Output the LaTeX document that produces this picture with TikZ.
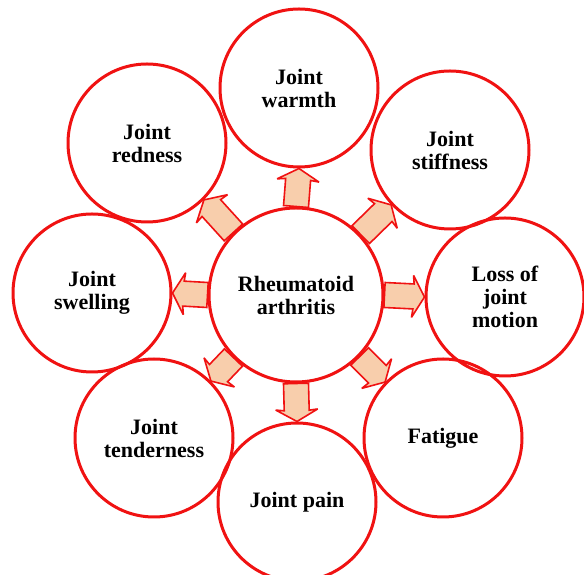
\documentclass[tikz,border=0pt]{standalone}
\usepackage{fontspec}
\setmainfont{Liberation Serif}
\usetikzlibrary{calc}

\definecolor{rared}{RGB}{240,18,18}
\definecolor{peach}{RGB}{248,206,172}

\tikzset{
  symptom/.style={circle, draw=rared, line width=3pt, minimum size=158pt,
    inner sep=0pt, align=center, font=\bfseries\fontsize{22}{23}\selectfont},
  disease/.style={symptom, minimum size=174pt, fill=white},
  % block arrow drawn from start point to target point
  fat arrow/.style={draw=rared, fill=peach, line width=1.6pt, line join=miter, miter limit=2.5,
    to path={
      ($(\tikztostart)!12.5pt!90:(\tikztotarget)$)
      -- ($(\tikztotarget)!11pt!(\tikztostart) + (\tikztotarget)!12.5pt!-90:(\tikztostart) - (\tikztotarget)$)
      -- ($(\tikztotarget)!12pt!(\tikztostart) + (\tikztotarget)!21pt!-90:(\tikztostart) - (\tikztotarget)$)
      -- (\tikztotarget)
      -- ($(\tikztotarget)!12pt!(\tikztostart) + (\tikztotarget)!21pt!90:(\tikztostart) - (\tikztotarget)$)
      -- ($(\tikztotarget)!11pt!(\tikztostart) + (\tikztotarget)!12.5pt!90:(\tikztostart) - (\tikztotarget)$)
      -- ($(\tikztostart)!12.5pt!-90:(\tikztotarget)$) -- cycle}}
}

\begin{document}
\begin{tikzpicture}[x=1pt, y=1pt, line join=round]
    \useasboundingbox (0,0) rectangle (584,575);

    % 中心疾病
    \node[disease] (ra) at (296,280) {Rheumatoid\\arthritis};

    % 周围症状 (顺时针, 从上方开始)
    \node[symptom] (warmth)     at (299,487) {Joint\\warmth};
    \node[symptom] (stiffness)  at (450,425) {Joint\\stiffness};
    \node[symptom] (motion)     at (505,278) {Loss of\\joint\\motion};
    \node[symptom] (fatigue)    at (443,137) {Fatigue};
    \node[symptom] (pain)       at (297,73)  {Joint pain};
    \node[symptom] (tenderness) at (154,137) {Joint\\tenderness};
    \node[symptom] (swelling)   at (92,282)  {Joint\\swelling};
    \node[symptom] (redness)    at (147,432) {Joint\\redness};

    % 箭头: 中心指向各症状
    \draw[fat arrow] (ra.90)   to (warmth.270);
    \draw[fat arrow] (ra.43)   to (stiffness.223);
    \draw[fat arrow] (ra.0)    to (motion.180);
    \draw[fat arrow] (ra.-44)  to (fatigue.136);
    \draw[fat arrow] (ra.-90)  to (pain.90);
    \draw[fat arrow] (ra.-135) to (tenderness.45);
    \draw[fat arrow] (ra.180)  to (swelling.0);
    \draw[fat arrow] (ra.135)  to (redness.-45);
\end{tikzpicture}
\end{document}
